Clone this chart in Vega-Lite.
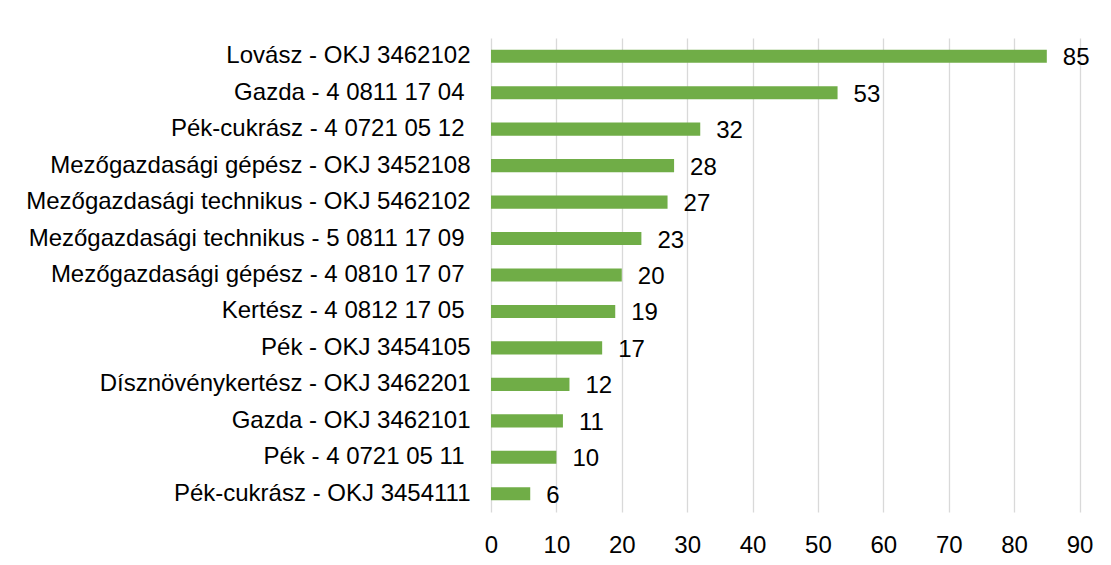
{
  "$schema": "https://vega.github.io/schema/vega-lite/v6.json",
  "width": 588.5,
  "height": 474,
  "autosize": {"type": "none"},
  "padding": {"left": 491, "top": 38, "right": 31.5, "bottom": 53},
  "background": "white",
  "config": {
    "view": {"stroke": null},
    "font": "Liberation Sans",
    "axis": {"labelFont": "Liberation Sans", "labelFontSize": 24, "labelColor": "#000000"}
  },
  "data": {
    "values": [
      {"kepzes": "Lovász - OKJ 3462102", "db": 85},
      {"kepzes": "Gazda - 4 0811 17 04", "db": 53},
      {"kepzes": "Pék-cukrász - 4 0721 05 12", "db": 32},
      {"kepzes": "Mezőgazdasági gépész - OKJ 3452108", "db": 28},
      {"kepzes": "Mezőgazdasági technikus - OKJ 5462102", "db": 27},
      {"kepzes": "Mezőgazdasági technikus - 5 0811 17 09", "db": 23},
      {"kepzes": "Mezőgazdasági gépész - 4 0810 17 07", "db": 20},
      {"kepzes": "Kertész - 4 0812 17 05", "db": 19},
      {"kepzes": "Pék - OKJ 3454105", "db": 17},
      {"kepzes": "Dísznövénykertész - OKJ 3462201", "db": 12},
      {"kepzes": "Gazda - OKJ 3462101", "db": 11},
      {"kepzes": "Pék - 4 0721 05 11", "db": 10},
      {"kepzes": "Pék-cukrász - OKJ 3454111", "db": 6}
    ]
  },
  "encoding": {
    "y": {
      "field": "kepzes",
      "type": "nominal",
      "sort": null,
      "scale": {"paddingInner": 0.64, "paddingOuter": 0.32},
      "axis": {
        "title": null,
        "domain": false,
        "ticks": false,
        "tickSize": 0,
        "labelPadding": {"condition": {"test": "indexof(datum.label, 'OKJ') < 0", "value": 27}, "value": 21},
        "labelLimit": 0
      }
    },
    "x": {
      "field": "db",
      "type": "quantitative",
      "scale": {"domain": [0, 90], "nice": false},
      "axis": {
        "title": null,
        "values": [0, 10, 20, 30, 40, 50, 60, 70, 80, 90],
        "domain": false,
        "ticks": false,
        "tickSize": 0,
        "labelPadding": 21,
        "labelFlush": false,
        "grid": true,
        "gridColor": "#D9D9D9",
        "gridWidth": 1.3
      }
    }
  },
  "layer": [
    {"mark": {"type": "bar", "color": "#70AD47"}},
    {
      "mark": {"type": "text", "align": "left", "baseline": "middle", "dx": 16, "dy": 2, "fontSize": 24, "color": "#000000", "font": "Liberation Sans"},
      "encoding": {"text": {"field": "db", "type": "quantitative"}}
    }
  ]
}
